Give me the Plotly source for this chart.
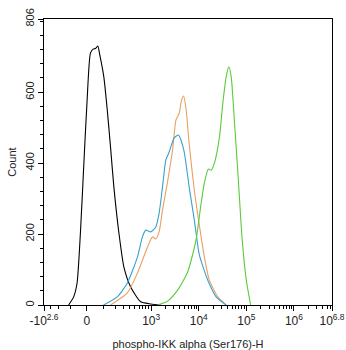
import numpy as np
import plotly.graph_objects as go

# x values are in axis display units (biexponential "decade" scale: 10^n -> n)
black_x = [1.265, 1.371, 1.443, 1.513, 1.582, 1.654, 1.724, 1.781, 1.830, 1.878, 1.920, 2.005, 2.077, 2.146, 2.216, 2.322, 2.427, 2.569, 2.780, 2.992, 3.203]
black_y = [0, 23, 62, 203, 389, 578, 710, 721, 723, 730, 705, 643, 550, 445, 333, 203, 107, 51, 9, 3, 0]

blue_x = [1.999, 2.288, 2.499, 2.711, 2.816, 2.886, 2.992, 3.097, 3.167, 3.239, 3.309, 3.378, 3.484, 3.573, 3.625, 3.695, 3.801, 3.906, 4.012, 4.111, 4.190, 4.365, 4.576]
blue_y = [0, 23, 62, 135, 192, 211, 206, 220, 259, 333, 409, 431, 471, 479, 465, 431, 330, 240, 141, 99, 70, 23, 0]

orange_x = [2.146, 2.499, 2.711, 2.922, 3.028, 3.097, 3.167, 3.239, 3.344, 3.450, 3.520, 3.590, 3.640, 3.682, 3.731, 3.801, 3.906, 4.012, 4.118, 4.223, 4.401, 4.576]
orange_y = [0, 34, 90, 163, 192, 186, 206, 268, 347, 437, 521, 541, 578, 589, 555, 451, 324, 225, 135, 70, 23, 0]

green_x = [3.133, 3.344, 3.556, 3.767, 3.942, 4.048, 4.118, 4.202, 4.259, 4.329, 4.435, 4.506, 4.576, 4.633, 4.682, 4.752, 4.836, 4.908, 4.999, 5.090]
green_y = [0, 11, 42, 93, 183, 285, 344, 383, 380, 400, 473, 569, 643, 671, 643, 513, 344, 192, 70, 0]

x_tick_raw = [-10 ** 2.6, 0, 1e3, 1e4, 1e5, 1e6, 10 ** 6.8]
x_tick_text = ["-10<sup>2.6</sup>", "0", "10<sup>3</sup>", "10<sup>4</sup>", "10<sup>5</sup>", "10<sup>6</sup>", "10<sup>6.8</sup>"]
y_tick_vals = [0, 200, 400, 600, 806]
y_max = 806


def to_display(v):
    """Biexponential-like display transform: linear-ish near 0, log10 above 1e3."""
    v = np.asarray(v, dtype=float)
    return np.where(v >= 1e3, np.log10(np.maximum(v, 1e3)), 1.649 + 0.5 * np.arcsinh(v / 135.0))


x_tick_vals = [float(t) for t in to_display(x_tick_raw)]
minor_raw = [-300, -200, -100, 100, 200, 300, 400, 500, 600, 700, 800, 900]
for n in range(3, 7):
    for k in range(2, 10):
        if k * 10 ** n < 10 ** 6.8:
            minor_raw.append(k * 10 ** n)
x_minor_vals = [float(t) for t in to_display(minor_raw)]

series = [
    (black_x, black_y, "#000000"),
    (orange_x, orange_y, "#e8a062"),
    (blue_x, blue_y, "#36a2cf"),
    (green_x, green_y, "#5acb3c"),
]

fig = go.Figure()
for xs, ys, col in series:
    fig.add_trace(go.Scatter(x=xs, y=ys, mode="lines", line=dict(color=col, width=1.1, shape="spline", smoothing=0.6),
                             hoverinfo="skip"))

font = dict(family="Liberation Sans, Arial, sans-serif", size=11, color="#222")
xfont = dict(family="Liberation Sans, Arial, sans-serif", size=12, color="#222")

fig.update_layout(
    width=346, height=350,
    margin=dict(l=44, r=14, t=19, b=45),
    paper_bgcolor="white", plot_bgcolor="white",
    showlegend=False,
    font=font,
)
fig.update_xaxes(
    range=[x_tick_vals[0], x_tick_vals[-1]],
    tickmode="array", tickvals=x_tick_vals, ticktext=x_tick_text,
    ticks="outside", ticklen=5, tickwidth=1, tickcolor="black",
    minor=dict(tickmode="array", tickvals=x_minor_vals, ticks="outside", ticklen=3, tickcolor="black"),
    showgrid=False, zeroline=False, automargin=False,
    showline=True, linecolor="black", linewidth=1, mirror=True,
    title=dict(text="phospho-IKK alpha (Ser176)-H", font=font, standoff=12),
    tickfont=xfont,
)
fig.update_yaxes(
    range=[0, y_max],
    tickmode="array", tickvals=y_tick_vals, ticktext=[str(v) for v in y_tick_vals],
    tickangle=-90,
    ticks="outside", ticklen=5, tickwidth=1, tickcolor="black",
    minor=dict(dtick=40, tick0=0, ticks="outside", ticklen=3, tickcolor="black"),
    showgrid=False, zeroline=False, automargin=False,
    showline=True, linecolor="black", linewidth=1, mirror=True,
    title=dict(text="Count", font=font, standoff=4),
    tickfont=font,
)

fig.write_html("out.html")
